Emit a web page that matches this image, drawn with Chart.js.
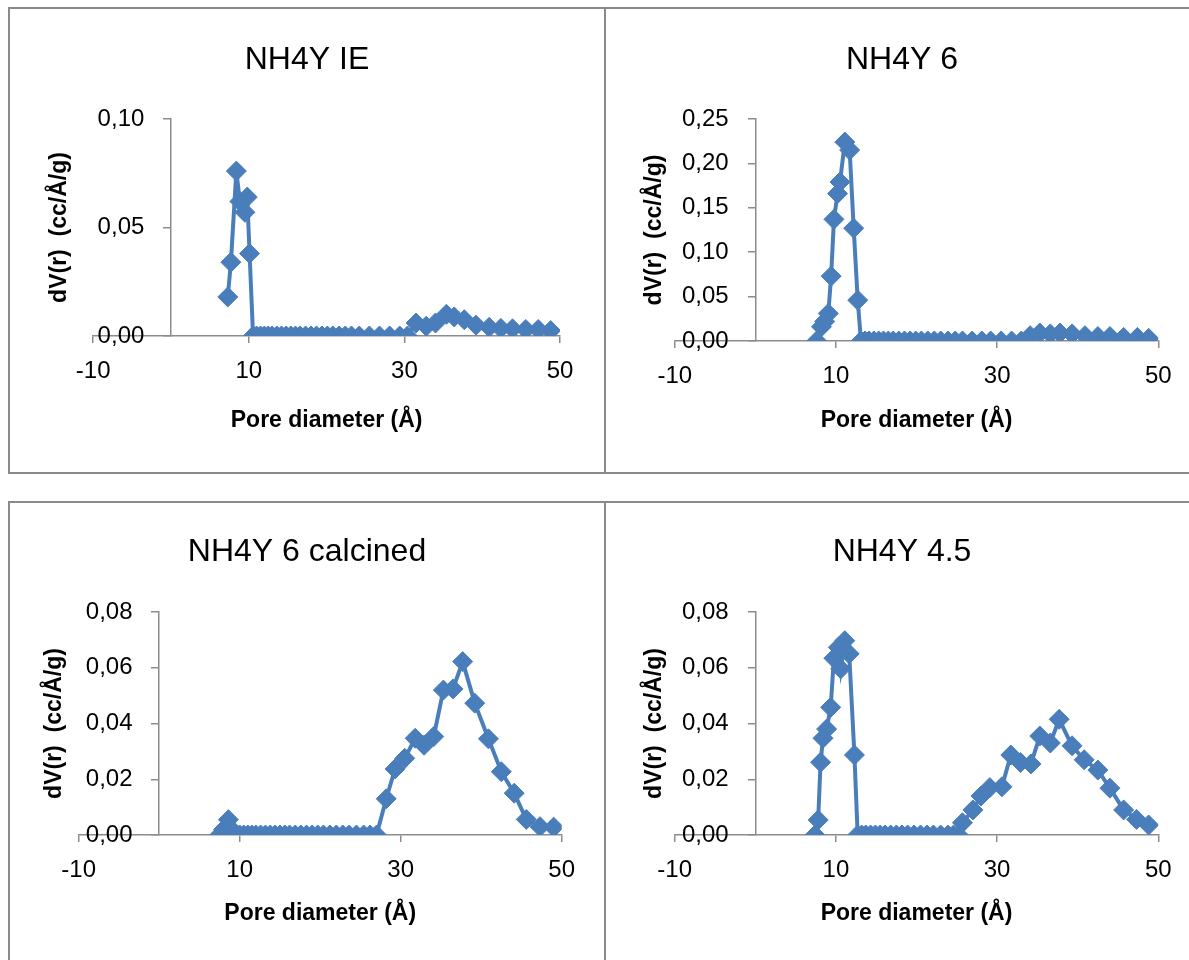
<!DOCTYPE html>
<html>
<head>
<meta charset="utf-8">
<script src="https://cdn.jsdelivr.net/npm/chart.js@4"></script>
<style>
  body { margin: 0; background: #fff; width: 1189px; height: 960px; overflow: hidden; position: relative; }
  .panel { position: absolute; border: 2px solid #8a8a8a; box-sizing: border-box; }
  .box { position: absolute; }
</style>
</head>
<body>
<div class="panel" style="left:8px;top:7px;width:598px;height:467px"></div>
<div class="panel" style="left:604px;top:7px;width:600px;height:467px"></div>
<div class="panel" style="left:8px;top:501px;width:598px;height:500px"></div>
<div class="panel" style="left:604px;top:501px;width:600px;height:500px"></div>

<div class="box" style="left:10px;top:9px;width:594px;height:463px"><canvas id="c1"></canvas></div>
<div class="box" style="left:606px;top:9px;width:592px;height:463px"><canvas id="c2"></canvas></div>
<div class="box" style="left:10px;top:503px;width:594px;height:457px"><canvas id="c3"></canvas></div>
<div class="box" style="left:606px;top:503px;width:592px;height:457px"><canvas id="c4"></canvas></div>

<script>
// x axis ticks shared by all four charts
const xTicks = [-10, 10, 30, 50];

// NH4Y IE
const xIE = [7.3, 7.7, 8.4, 8.85, 9.5, 9.8, 10.1, 10.55, 11.0, 11.5, 12.0, 12.5, 13.0, 13.6, 14.2, 14.8, 15.4, 16.0, 16.6, 17.3, 18.0, 18.7, 19.4, 20.1, 20.8, 21.6, 22.4, 23.2, 24.2, 25.5, 26.8, 28.1, 29.4, 30.4, 31.5, 32.8, 34.0, 35.4, 36.4, 37.7, 39.2, 40.9, 42.4, 43.9, 45.6, 47.2, 48.8];
const yIE = [0.018, 0.034, 0.076, 0.062, 0.057, 0.064, 0.038, 0, 0, 0, 0, 0, 0, 0, 0, 0, 0, 0, 0, 0, 0, 0, 0, 0, 0, 0, 0, 0, 0, 0, 0, 0, 0, 0, 0.006, 0.0045, 0.006, 0.010, 0.0088, 0.0075, 0.005, 0.004, 0.0035, 0.0033, 0.003, 0.003, 0.0025];

// NH4Y 6
const x6 = [7.6, 8.2, 8.6, 9.05, 9.4, 9.75, 10.2, 10.5, 11.1, 11.7, 12.2, 12.7, 13.1, 13.6, 14.1, 14.7, 15.3, 15.9, 16.5, 17.1, 17.8, 18.5, 19.2, 19.9, 20.6, 21.4, 22.2, 23.0, 23.9, 24.8, 25.7, 26.9, 28.1, 29.2, 30.5, 31.8, 33.0, 34.1, 35.3, 36.6, 37.8, 39.3, 40.9, 42.5, 44.0, 45.7, 47.4, 48.8];
const y6 = [0, 0.016, 0.022, 0.031, 0.073, 0.137, 0.166, 0.179, 0.224, 0.215, 0.127, 0.046, 0, 0, 0, 0, 0, 0, 0, 0, 0, 0, 0, 0, 0, 0, 0, 0, 0, 0, 0, 0, 0, 0, 0, 0, 0, 0.006, 0.009, 0.008, 0.009, 0.008, 0.006, 0.005, 0.005, 0.004, 0.004, 0.003];

// NH4Y 6 calcined
const xCal = [7.5, 8.0, 8.6, 9.0, 9.5, 10.0, 10.5, 11.0, 11.5, 12.0, 12.6, 13.2, 13.8, 14.4, 15.0, 15.6, 16.2, 16.9, 17.6, 18.3, 19.0, 19.7, 20.4, 21.2, 22.0, 22.8, 23.6, 24.5, 25.4, 26.2, 27.0, 28.2, 29.3, 30.5, 31.8, 32.9, 34.1, 35.3, 36.5, 37.7, 39.2, 40.9, 42.5, 44.1, 45.6, 47.3, 49.0];
const yCal = [0, 0.002, 0.0055, 0.002, 0, 0, 0, 0, 0, 0, 0, 0, 0, 0, 0, 0, 0, 0, 0, 0, 0, 0, 0, 0, 0, 0, 0, 0, 0, 0, 0, 0.013, 0.0237, 0.0275, 0.0347, 0.0322, 0.0353, 0.052, 0.0524, 0.0622, 0.0473, 0.0345, 0.0227, 0.015, 0.0056, 0.003, 0.0028];

// NH4Y 4.5
const x45 = [7.4, 7.8, 8.1, 8.4, 8.85, 9.35, 9.75, 10.3, 10.6, 11.1, 11.65, 12.3, 12.7, 13.2, 13.7, 14.3, 14.9, 15.5, 16.1, 16.8, 17.5, 18.2, 18.9, 19.7, 20.5, 21.3, 22.1, 23.0, 23.9, 24.6, 25.2, 25.7, 27.0, 28.0, 29.1, 30.6, 31.7, 32.9, 34.2, 35.3, 36.6, 37.7, 39.3, 40.8, 42.5, 44.0, 45.7, 47.3, 48.8];
const y45 = [0, 0.0054, 0.0261, 0.0347, 0.038, 0.0458, 0.0634, 0.0673, 0.0596, 0.0697, 0.065, 0.0287, 0, 0, 0, 0, 0, 0, 0, 0, 0, 0, 0, 0, 0, 0, 0, 0, 0, 0, 0, 0.0044, 0.009, 0.014, 0.017, 0.0173, 0.0287, 0.026, 0.0255, 0.0355, 0.033, 0.0415, 0.032, 0.027, 0.0233, 0.0168, 0.009, 0.0056, 0.0036];

const FONT = '"Liberation Sans", Arial, sans-serif';
const blue = '#4a7ebb';
const axisColor = '#8c8c8c';

function makeChart(id, title, xs, ys, yMax, yStep, g) {
    const points = xs.map((x, i) => ({x: x, y: ys[i]}));
    new Chart(document.getElementById(id), {
        type: 'line',
        data: {
            datasets: [{
                data: points,
                borderColor: blue,
                backgroundColor: blue,
                borderWidth: 4,
                pointStyle: 'rectRot',
                pointRadius: 10,
                pointBorderWidth: 1,
                tension: 0
            }]
        },
        options: {
            responsive: true,
            maintainAspectRatio: false,
            animation: false,
            layout: {
                padding: {left: 10, right: 10, top: 0, bottom: 0}
            },
            plugins: {
                legend: {display: false},
                tooltip: {enabled: false},
                title: {
                    display: true,
                    text: title,
                    color: '#000',
                    font: {size: 32, family: FONT, weight: 'normal'},
                    padding: {top: g.titleTop, bottom: g.titleBottom}
                }
            },
            scales: {
                x: {
                    type: 'linear',
                    position: 'bottom',
                    min: -10,
                    max: 50,
                    afterBuildTicks: (s) => { s.ticks = xTicks.map(v => ({value: v})); },
                    afterFit: (s) => { s.height = g.xHeight; },
                    ticks: {color: '#000', font: {size: 24, family: FONT}, padding: 13.6, maxRotation: 0},
                    grid: {display: true, drawOnChartArea: false, tickLength: 7, color: axisColor, lineWidth: 1.5},
                    border: {display: true, color: axisColor, width: 1.5},
                    title: {
                        display: true,
                        text: 'Pore diameter (Å)',
                        color: '#000',
                        font: {size: 23, weight: 'bold', family: FONT},
                        padding: {top: 0, bottom: g.xTitleBottom}
                    }
                },
                y: {
                    type: 'linear',
                    position: {x: 0},
                    min: 0,
                    max: yMax,
                    ticks: {
                        stepSize: yStep,
                        color: '#000',
                        font: {size: 24, family: FONT},
                        // trailing spaces keep the labels off the axis line
                        callback: (v) => v.toFixed(2).replace('.', ',') + '    '
                    },
                    grid: {display: true, drawOnChartArea: false, tickLength: 7, color: axisColor, lineWidth: 1.5},
                    border: {display: true, color: axisColor, width: 1.5}
                },
                // axis used only to carry the y title on the left side
                yTitle: {
                    type: 'linear',
                    position: 'left',
                    display: true,
                    afterFit: (s) => { s.width = g.yTitleW; },
                    ticks: {display: false},
                    grid: {display: false},
                    border: {display: false},
                    title: {
                        display: true,
                        text: 'dV(r)  (cc/Å/g)',
                        color: '#000',
                        font: {size: 23, weight: 'bold', family: FONT},
                        padding: {top: g.yTitlePad, bottom: 0}
                    }
                },
                // empty spacer on the right so the title stays centred
                ySpace: {
                    type: 'linear',
                    position: 'right',
                    display: true,
                    afterFit: (s) => { s.width = g.rightW; },
                    ticks: {display: false},
                    grid: {display: false},
                    border: {display: false}
                }
            }
        }
    });
}

makeChart('c1', 'NH4Y IE', xIE, yIE, 0.10, 0.05,
    {yTitleW: 73.2, yTitlePad: 26.2, rightW: 34, titleTop: 31.8, titleBottom: 39.8, xHeight: 136, xTitleBottom: 37.2});
makeChart('c2', 'NH4Y 6', x6, y6, 0.25, 0.05,
    {yTitleW: 58.8, yTitlePad: 25.2, rightW: 29.7, titleTop: 31.8, titleBottom: 39.8, xHeight: 131, xTitleBottom: 37.2});
makeChart('c3', 'NH4Y 6 calcined', xCal, yCal, 0.08, 0.02,
    {yTitleW: 58.7, yTitlePad: 21.2, rightW: 32.3, titleTop: 29.8, titleBottom: 40.8, xHeight: 125, xTitleBottom: 32.2});
makeChart('c4', 'NH4Y 4.5', x45, y45, 0.08, 0.02,
    {yTitleW: 58.7, yTitlePad: 25.2, rightW: 29.7, titleTop: 29.8, titleBottom: 40.8, xHeight: 125, xTitleBottom: 32.2});
</script>
</body>
</html>
